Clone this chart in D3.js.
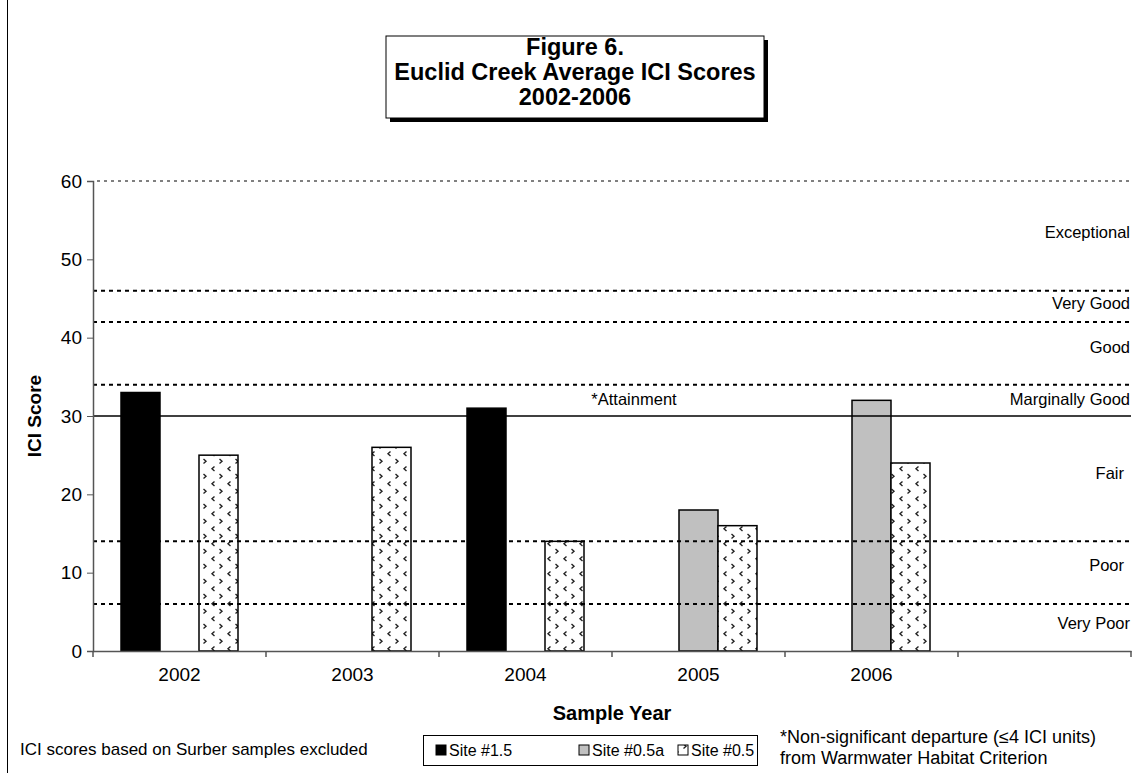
<!DOCTYPE html>
<html>
<head>
<meta charset="utf-8">
<script src="https://cdn.jsdelivr.net/npm/d3@7"></script>
<style>
  html, body { margin: 0; padding: 0; background: #fff; }
  svg { display: block; font-family: "Liberation Sans", Arial, sans-serif; }
</style>
</head>
<body>
<svg id="chart" width="1137" height="773"></svg>
<script>
// Sample years (last slot is an empty category on the axis)
const years = ["2002", "2003", "2004", "2005", "2006", ""];
const seriesNames = ["Site #1.5", "Site #0.5a", "Site #0.5"];
// Average ICI scores per site (null = not sampled)
const site15  = [33, null, 31, null, null, null];
const site05a = [null, null, null, 18, 32, null];
const site05  = [25, 26, 14, 16, 24, null];
const yTicks = [0, 10, 20, 30, 40, 50, 60];
// Narrative rating break points and the attainment line
const ratingBreaks = [46, 42, 34, 14, 6];
const attainment = 30;
const ratingNames = ["Exceptional", "Very Good", "Good", "Marginally Good", "Fair", "Poor", "Very Poor"];
const ratingLabelAt = [53.4, 44.4, 38.8, 32.2, 22.7, 10.9, 3.6];

(function () {
const svg = d3.select("#chart");

// outer chart frame
svg.append("rect").attr("x", 7.5).attr("y", -2).attr("width", 1140).attr("height", 790)
  .attr("fill", "none").attr("stroke", "#000").attr("stroke-width", 1);

const pLeft = 93, pRight = 1131, pTop = 181, pBottom = 651;
const x = d3.scaleBand().domain(years).range([pLeft, pRight]).paddingInner(0).paddingOuter(0);
const xs = d3.scaleBand().domain(seriesNames).range([0, x.bandwidth()]).paddingInner(0).paddingOuter(0.718);
const y = d3.scaleLinear().domain([0, 60]).range([pBottom, pTop]);

// fill pattern for Site #0.5: alternating rows of small chevrons
const defs = svg.append("defs");
const pat = defs.append("pattern").attr("id", "chev").attr("patternUnits", "userSpaceOnUse")
  .attr("width", 16).attr("height", 15).attr("x", 0).attr("y", 0);
pat.append("rect").attr("width", 16).attr("height", 15).attr("fill", "#fff");
pat.append("path").attr("d", "M6.5,1.5 L4,3.8 L6.5,6").attr("fill", "none").attr("stroke", "#222").attr("stroke-width", 1.4);
pat.append("path").attr("d", "M11.5,9 L14,11.3 L11.5,13.5").attr("fill", "none").attr("stroke", "#222").attr("stroke-width", 1.4);

// top gridline at 60
svg.append("line").attr("x1", pLeft + 4).attr("x2", pRight).attr("y1", y(60)).attr("y2", y(60))
  .attr("stroke", "#000").attr("stroke-width", 1).attr("stroke-dasharray", "3,4");

// bars
const seriesVals = [site15, site05a, site05];
const fills = ["#000", "#c0c0c0", "url(#chev)"];
const barData = [];
seriesVals.forEach((vals, si) => vals.forEach((v, i) => {
  if (v != null) barData.push({ year: years[i], s: seriesNames[si], v, fill: fills[si] });
}));
svg.append("g").selectAll("rect").data(barData).join("rect")
  .attr("x", d => x(d.year) + xs(d.s))
  .attr("width", xs.bandwidth())
  .attr("y", d => y(d.v))
  .attr("height", d => y(0) - y(d.v))
  .attr("fill", d => d.fill)
  .attr("stroke", "#000").attr("stroke-width", 1.5);

// rating break lines
svg.append("g").selectAll("line").data(ratingBreaks).join("line")
  .attr("x1", pLeft).attr("x2", pRight)
  .attr("y1", d => y(d)).attr("y2", d => y(d))
  .attr("stroke", "#000").attr("stroke-width", 2).attr("stroke-dasharray", "4,4");
svg.append("line").attr("x1", pLeft).attr("x2", pRight)
  .attr("y1", y(attainment)).attr("y2", y(attainment))
  .attr("stroke", "#000").attr("stroke-width", 1.5);

// axes
const yAxis = svg.append("g").attr("transform", `translate(${pLeft},0)`)
  .call(d3.axisLeft(y).tickValues(yTicks).tickSize(6).tickPadding(5));
const xAxis = svg.append("g").attr("transform", `translate(0,${pBottom})`)
  .call(d3.axisBottom(x).tickSize(0).tickPadding(17));
[yAxis, xAxis].forEach(g => {
  g.select(".domain").attr("stroke", "#555").attr("stroke-width", 1.5);
  g.selectAll(".tick line").attr("stroke", "#555");
  g.selectAll("text").attr("font-size", 19).attr("fill", "#000")
    .attr("font-family", "Liberation Sans, Arial, sans-serif");
});
// category boundary ticks
const bounds = years.map(d => x(d)).concat([pRight]);
svg.append("g").selectAll("line").data(bounds).join("line")
  .attr("x1", d => d).attr("x2", d => d).attr("y1", pBottom).attr("y2", pBottom + 6)
  .attr("stroke", "#555").attr("stroke-width", 1.5);

// rating labels
svg.append("g").selectAll("text").data(ratingNames).join("text")
  .attr("x", d => (d === "Fair" || d === "Poor") ? pRight - 7 : pRight - 1)
  .attr("y", (d, i) => y(ratingLabelAt[i]))
  .attr("dy", "0.35em").attr("text-anchor", "end").attr("font-size", 16.5).text(d => d);
svg.append("text").attr("x", 634).attr("y", y(32.2)).attr("dy", "0.35em")
  .attr("text-anchor", "middle").attr("font-size", 16.5).text("*Attainment");

// axis titles
svg.append("text").attr("transform", `translate(41,${(pTop + pBottom) / 2}) rotate(-90)`)
  .attr("text-anchor", "middle").attr("font-weight", "bold").attr("font-size", 19).text("ICI Score");
svg.append("text").attr("x", 612).attr("y", 713).attr("dy", "0.35em")
  .attr("text-anchor", "middle").attr("font-weight", "bold").attr("font-size", 20).text("Sample Year");

// title box with drop shadow
const tb = { x: 386, y: 36, w: 378, h: 82 };
svg.append("rect").attr("x", tb.x + 4).attr("y", tb.y + 4).attr("width", tb.w).attr("height", tb.h).attr("fill", "#000");
svg.append("rect").attr("x", tb.x).attr("y", tb.y).attr("width", tb.w).attr("height", tb.h)
  .attr("fill", "#fff").attr("stroke", "#000").attr("stroke-width", 1);
const titleLines = ["Figure 6.", "Euclid Creek Average ICI Scores", "2002-2006"];
svg.append("g").selectAll("text").data(titleLines).join("text")
  .attr("x", tb.x + tb.w / 2).attr("y", (d, i) => 47 + i * 25).attr("dy", "0.35em")
  .attr("text-anchor", "middle").attr("font-weight", "bold").attr("font-size", 23.5).text(d => d);

// footnotes
svg.append("text").attr("x", 20).attr("y", 749).attr("dy", "0.35em").attr("font-size", 17)
  .text("ICI scores based on Surber samples excluded");
svg.append("text").attr("x", 780).attr("y", 737).attr("dy", "0.35em").attr("font-size", 18)
  .text("*Non-significant departure (\u22644 ICI units)");
svg.append("text").attr("x", 780).attr("y", 758).attr("dy", "0.35em").attr("font-size", 18)
  .text("from Warmwater Habitat Criterion");

// legend
const lg = svg.append("g");
lg.append("rect").attr("x", 423.5).attr("y", 735.5).attr("width", 334).attr("height", 30)
  .attr("fill", "#fff").attr("stroke", "#000").attr("stroke-width", 1);
const legX = [436, 579, 678];
seriesNames.forEach((s, i) => {
  lg.append("rect").attr("x", legX[i]).attr("y", 745).attr("width", 10).attr("height", 10)
    .attr("fill", fills[i]).attr("stroke", "#000").attr("stroke-width", 1);
  lg.append("text").attr("x", legX[i] + 13).attr("y", 750).attr("dy", "0.35em").attr("font-size", 16).text(s);
});
})();
</script>
</body>
</html>
